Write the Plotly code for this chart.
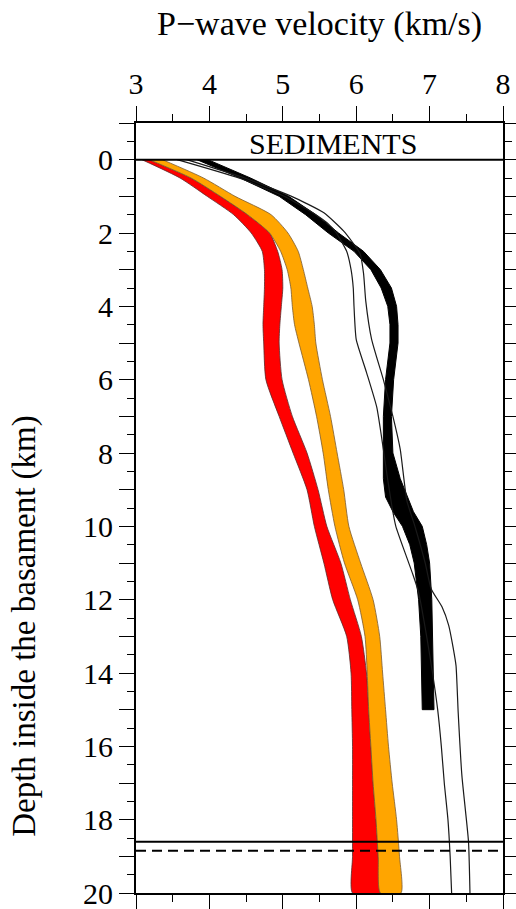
import plotly.graph_objects as go

# Depth grid (km below top of basement) shared by the red and orange envelopes
depth = [0, 0.5, 1, 1.5, 2, 2.5, 3, 3.5, 4, 4.5, 5, 6, 7, 8, 9, 10,
         11, 12, 13, 14, 15, 16, 17, 18, 19, 20]

# Red envelope (slow bound / fast bound), km/s
red_lo = [3.08, 3.60, 3.97, 4.33, 4.57, 4.72, 4.75, 4.75, 4.74, 4.73, 4.74, 4.77,
          4.95, 5.14, 5.33, 5.43, 5.56, 5.68, 5.87, 5.93, 5.94, 5.95, 5.95, 5.95, 5.95, 5.95]
red_hi = [3.18, 3.75, 4.15, 4.52, 4.82, 4.93, 4.99, 5.00, 4.98, 4.96, 4.95, 4.99,
          5.13, 5.33, 5.48, 5.60, 5.79, 5.92, 6.07, 6.14, 6.17, 6.20, 6.23, 6.27, 6.30, 6.33]

# Orange envelope
orange_lo = [3.18, 3.75, 4.15, 4.52, 4.82, 4.97, 5.06, 5.11, 5.13, 5.16, 5.22, 5.35,
             5.46, 5.55, 5.62, 5.71, 5.84, 6.02, 6.12, 6.15, 6.17, 6.20, 6.23, 6.27, 6.30, 6.33]
orange_hi = [3.36, 3.92, 4.35, 4.84, 5.07, 5.21, 5.28, 5.34, 5.40, 5.43, 5.45, 5.54,
             5.65, 5.74, 5.83, 5.90, 6.06, 6.23, 6.32, 6.36, 6.40, 6.44, 6.49, 6.55, 6.59, 6.61]

# Black envelope (stops at 15 km)
black_depth = [0, 0.5, 1, 1.5, 2, 2.5, 3, 3.5, 4, 4.5, 5, 6, 7, 8, 8.7, 9.2, 9.6,
               10, 10.5, 11, 12, 13, 14, 15]
black_lo = [3.83, 4.42, 4.95, 5.31, 5.62, 5.97, 6.20, 6.34, 6.43, 6.46, 6.46, 6.40,
            6.37, 6.37, 6.37, 6.40, 6.50, 6.63, 6.73, 6.79, 6.85, 6.88, 6.89, 6.90]
black_hi = [3.98, 4.56, 5.08, 5.45, 5.76, 6.10, 6.33, 6.48, 6.55, 6.57, 6.57, 6.51,
            6.48, 6.50, 6.60, 6.70, 6.78, 6.90, 6.96, 7.00, 7.03, 7.04, 7.05, 7.06]

# Two single velocity profiles
prof1_depth = [0, 0.5, 1, 1.5, 1.75, 2, 2.5, 3, 3.5, 4, 4.9, 5.8, 6.75, 7.9, 8.6,
               9.5, 10, 10.8, 11.3, 11.8, 13, 14, 15, 16, 17, 18, 19, 20]
prof1_vp = [3.56, 4.40, 5.02, 5.45, 5.62, 5.73, 5.87, 5.93, 5.96, 5.97, 6.00, 6.14,
            6.28, 6.37, 6.42, 6.49, 6.54, 6.68, 6.77, 6.85, 6.96, 7.04, 7.11, 7.16,
            7.20, 7.25, 7.28, 7.30]
prof2_depth = [0, 0.5, 1, 1.45, 1.95, 2.55, 3.1, 3.85, 4.9, 6, 7, 7.9, 9.3, 10, 11,
               11.7, 12.2, 12.7, 13.3, 13.8, 15.1, 16.8, 18.6, 20]
prof2_vp = [3.69, 4.48, 5.12, 5.56, 5.83, 6.05, 6.10, 6.13, 6.21, 6.37, 6.50, 6.60,
            6.69, 6.80, 6.94, 7.02, 7.17, 7.26, 7.32, 7.36, 7.39, 7.44, 7.53, 7.55]

# Horizontal reference levels (km)
sediment_base = 0
moho_solid = 18.6
moho_dashed = 18.85

x_ticks = [3, 4, 5, 6, 7, 8]
y_ticks = list(range(-1, 21))
y_ticktext = [str(v) if (v >= 0 and v % 2 == 0) else "" for v in y_ticks]

FONT = "Liberation Serif"


def band(lo, hi, d):
    return lo + hi[::-1], d + d[::-1]


fig = go.Figure()

bx, by = band(red_lo, red_hi, depth)
fig.add_trace(go.Scatter(x=bx, y=by, fill="toself", fillcolor="#ff0000",
                         line=dict(color="#5a2a2a", width=0.8, shape="spline", smoothing=0.6),
                         mode="lines", hoverinfo="skip"))
bx, by = band(orange_lo, orange_hi, depth)
fig.add_trace(go.Scatter(x=bx, y=by, fill="toself", fillcolor="#ffa500",
                         line=dict(color="#7a5a30", width=0.8, shape="spline", smoothing=0.6),
                         mode="lines", hoverinfo="skip"))
bx, by = band(black_lo, black_hi, black_depth)
fig.add_trace(go.Scatter(x=bx, y=by, fill="toself", fillcolor="#000000",
                         line=dict(color="#000000", width=1), mode="lines",
                         hoverinfo="skip"))
fig.add_trace(go.Scatter(x=prof1_vp, y=prof1_depth, mode="lines",
                         line=dict(color="#1a1a1a", width=1.2, shape="spline", smoothing=0.5),
                         hoverinfo="skip"))
fig.add_trace(go.Scatter(x=prof2_vp, y=prof2_depth, mode="lines",
                         line=dict(color="#1a1a1a", width=1.2, shape="spline", smoothing=0.5),
                         hoverinfo="skip"))

for yv, dash in [(sediment_base, "solid"), (moho_solid, "solid"), (moho_dashed, "10px,6px")]:
    fig.add_shape(type="line", xref="paper", x0=0, x1=1, yref="y", y0=yv, y1=yv,
                  line=dict(color="black", width=2, dash=dash))

fig.add_annotation(x=5.69, y=-0.45, xref="x", yref="y", text="SEDIMENTS",
                   showarrow=False, font=dict(family=FONT, size=30, color="black"),
                   xanchor="center", yanchor="middle")

fig.add_annotation(x=0.5, y=1.128, xref="paper", yref="paper",
                   text="P\u2212wave velocity (km/s)", showarrow=False,
                   font=dict(family=FONT, size=34, color="black"),
                   xanchor="center", yanchor="middle")

fig.add_annotation(x=-0.3025, y=0.347, xref="paper", yref="paper",
                   text="Depth inside the basament (km)", showarrow=False,
                   textangle=-90, font=dict(family=FONT, size=33, color="black"),
                   xanchor="center", yanchor="middle")

axis_common = dict(showline=True, linecolor="black", linewidth=1.8, mirror="ticks",
                   ticks="outside", ticklen=15, tickwidth=1.4, tickcolor="black",
                   showgrid=False, zeroline=False, automargin=False,
                   ticklabeloverflow="allow",
                   tickfont=dict(family=FONT, size=30, color="black"))

fig.update_xaxes(range=[3, 8], side="top", tickmode="array", tickvals=x_ticks,
                 ticktext=[str(v) for v in x_ticks],
                 minor=dict(ticks="outside", dtick=0.5, tick0=3, ticklen=7,
                            tickwidth=1.4, tickcolor="black"),
                 **axis_common)
fig.update_yaxes(range=[20, -1], tickmode="array", tickvals=y_ticks, ticktext=y_ticktext,
                 minor=dict(ticks="outside", dtick=0.5, tick0=0, ticklen=7,
                            tickwidth=1.4, tickcolor="black"),
                 **axis_common)

fig.update_layout(width=516, height=909, showlegend=False,
                  margin=dict(l=136, r=13, t=123, b=16),
                  paper_bgcolor="white", plot_bgcolor="white")

fig.write_html("out.html")
